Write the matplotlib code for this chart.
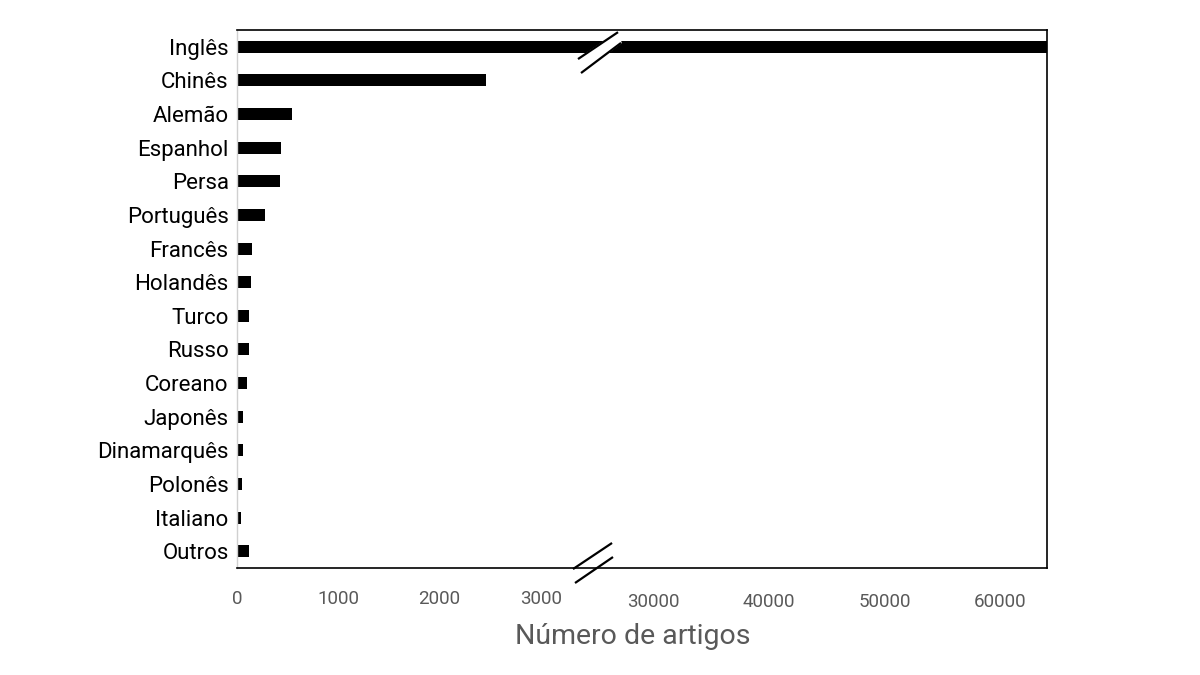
import numpy as np
import matplotlib
matplotlib.use("Agg")
import matplotlib.pyplot as plt

# Dados
idiomas = ["Inglês", "Chinês", "Alemão", "Espanhol", "Persa", "Português",
           "Francês", "Holandês", "Turco", "Russo", "Coreano", "Japonês",
           "Dinamarquês", "Polonês", "Italiano", "Outros"]
artigos = [64500, 2453, 545, 439, 429, 281, 146, 143, 123, 121, 94, 61,
           61, 54, 44, 123]
ticks_esq = [0, 1000, 2000, 3000]
ticks_dir = [30000, 40000, 50000, 60000]

plt.rcParams['font.family'] = ['Roboto', 'DejaVu Sans']

# escala com quebra: 0-3300 e 26000-64060
A, B, C = 0.10133, 0.011567, 416.0
B1, B2 = 3300.0, 26000.0
F1, F2 = B1 * A, C + (B2 - 30000) * B


def fwd(x):
    x = np.asarray(x, float)
    mid = F1 + (x - B1) * (F2 - F1) / (B2 - B1)
    return np.where(x <= B1, x * A, np.where(x >= B2, C + (x - 30000) * B, mid))


def inv(y):
    y = np.asarray(y, float)
    mid = B1 + (y - F1) * (B2 - B1) / (F2 - F1)
    return np.where(y <= F1, y / A, np.where(y >= F2, 30000 + (y - C) / B, mid))


fig = plt.figure(figsize=(12, 6.75), dpi=100)
ax = fig.add_axes([237 / 1200, 1 - 568 / 675, 810 / 1200, 538 / 675])

pos = np.arange(len(idiomas))
ax.barh(pos, artigos, height=0.36, color="black")
ax.set_xscale("function", functions=(fwd, inv))
ax.set_xlim(0, 64060)
ax.set_ylim(len(idiomas) - 0.5, -0.5)

ax.set_yticks(pos)
ax.set_yticklabels(idiomas, fontsize=16, color="black")
ax.tick_params(axis="y", length=0, pad=6)

ax.set_xticks(ticks_esq)
ax.set_xticklabels([str(t) for t in ticks_esq])
ax.set_xticks(ticks_dir, minor=True)
ax.set_xticklabels([str(t) for t in ticks_dir], minor=True)
ax.tick_params(axis="x", which="major", length=0, pad=16, labelsize=13.5,
               labelcolor="#595959")
ax.tick_params(axis="x", which="minor", length=0, pad=18, labelsize=13.5,
               labelcolor="#595959")

for s in ["top", "right", "bottom"]:
    ax.spines[s].set_color("black")
    ax.spines[s].set_linewidth(1.2)
ax.spines["left"].set_color("#d0d0d0")
ax.spines["left"].set_linewidth(1.0)

# marcas de quebra (coordenadas do eixo)
def quebra(l1, l2, clip):
    xs = [l1[0], l1[1], l2[1], l2[0]]
    ys = [l1[2], l1[3], l2[3], l2[2]]
    ax.fill(xs, ys, color="white", transform=ax.transAxes, clip_on=clip,
            zorder=2)
    for l in (l1, l2):
        ax.plot(l[:2], l[2:], color="black", lw=1.6, transform=ax.transAxes,
                clip_on=False, zorder=6, solid_capstyle="butt")

quebra((0.4148, 0.4630, -0.002, 0.0465), (0.4173, 0.4642, -0.0279, 0.0204),
       False)
quebra((0.4210, 0.4704, 0.946, 0.996), (0.4247, 0.4741, 0.920, 0.976), True)

fig.text(633 / 1200, 1 - 636 / 675, "Número de artigos", fontsize=20.5,
         color="#595959", ha="center", va="center")

fig.savefig("out.png", dpi=100, facecolor="white")
